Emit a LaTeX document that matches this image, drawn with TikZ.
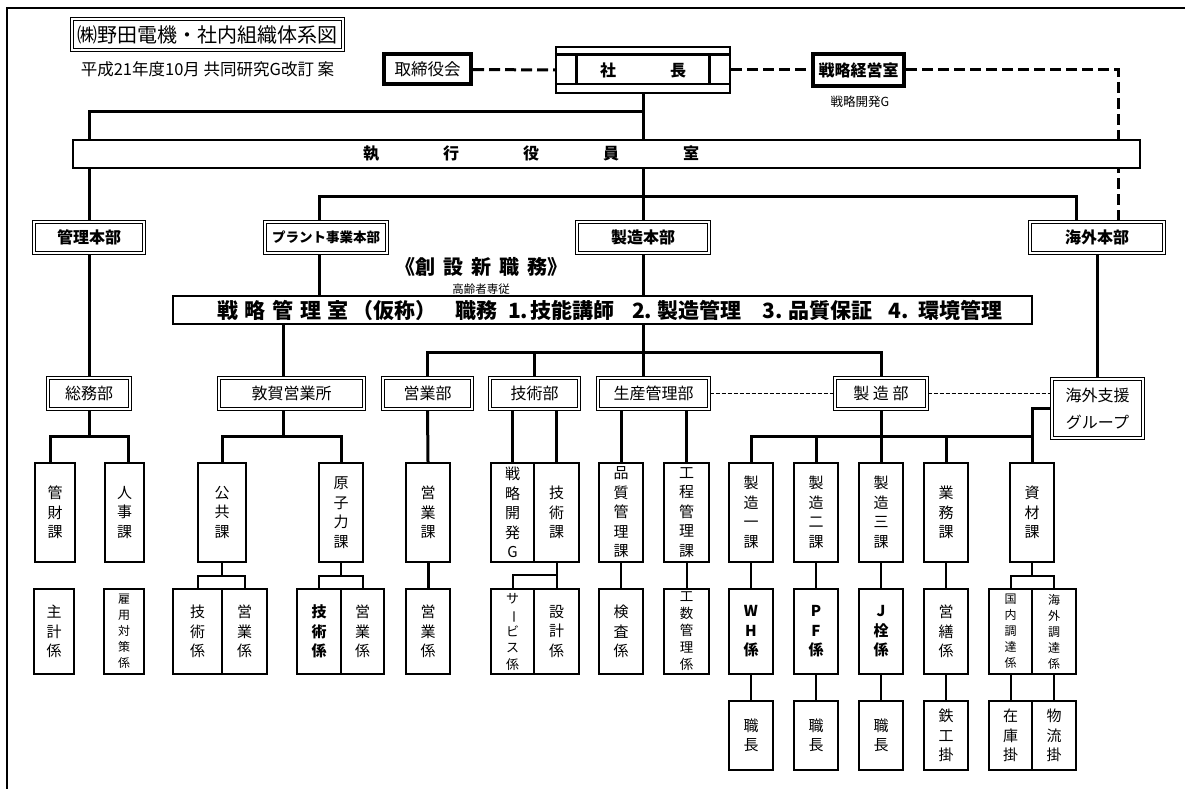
\documentclass[tikz,border=0pt]{standalone}
\usepackage{fontspec}
\setmainfont{Noto Sans CJK JP}
\usetikzlibrary{backgrounds}
\begin{document}
\begin{tikzpicture}[x=1pt,y=-1pt,
  kbox/.style={draw,line width=2.2pt,fill=white,inner sep=0pt,align=center,font=\fontsize{15}{19.5}\selectfont},
  ka/.style={kbox,minimum width=44pt,minimum height=99pt},
  kk/.style={kbox,minimum width=44pt,minimum height=85pt},
  k3/.style={kbox,minimum width=44pt,minimum height=69pt},
  smallv/.style={font=\fontsize{12}{16}\selectfont},
  dbox/.style={draw,double,double distance=1.6pt,line width=1.2pt,fill=white,inner sep=0pt,align=center,font=\fontsize{16}{20}\selectfont,minimum height=31pt},
  hbox/.style={dbox,font=\bfseries\fontsize{16}{20}\selectfont},
  conn/.style={line width=3pt},
  thinconn/.style={line width=2pt},
  dashline/.style={line width=3pt,dash pattern=on 11pt off 5pt},
  dotline/.style={line width=1pt,dash pattern=on 4pt off 2pt},
  barbox/.style={draw,line width=2.5pt,fill=white,inner sep=0pt,minimum height=28pt}
]
\useasboundingbox (0,0) rectangle (1185,789);

% header
\node[dbox,font=\fontsize{20}{24}\selectfont,minimum width=271pt] (title) at (207.5,34.5) {㈱野田電機・社内組織体系図};
\node[font=\fontsize{16.5}{19}\selectfont,inner sep=0pt] (sub) at (207.5,69) {平成21年度10月 共同研究G改訂 案};
\node[draw,line width=4pt,fill=white,minimum width=87pt,minimum height=30pt,inner sep=0pt,font=\fontsize{16.5}{20}\selectfont] (tori) at (427.5,69.5) {取締役会};
\node[draw,line width=2.5pt,fill=white,minimum width=174pt,minimum height=46pt,inner sep=0pt,font=\bfseries\fontsize{16}{20}\selectfont] (shacho) at (643,70) {社\hspace{54pt}長};
\draw[line width=2.5pt] ([yshift=-9pt]shacho.north west) -- ([yshift=-9pt]shacho.north east);
\draw[line width=2.5pt] ([yshift=10pt]shacho.south west) -- ([yshift=10pt]shacho.south east);
\draw[line width=3pt] ([xshift=22pt,yshift=-9pt]shacho.north west) -- ([xshift=22pt,yshift=10pt]shacho.south west);
\draw[line width=3pt] ([xshift=-22pt,yshift=-9pt]shacho.north east) -- ([xshift=-22pt,yshift=10pt]shacho.south east);
\node[draw,line width=4pt,fill=white,minimum width=91pt,minimum height=32pt,inner sep=0pt,font=\bfseries\fontsize{16}{20}\selectfont] (keiei) at (858.5,70) {戦略経営室};
\node[font=\fontsize{12.5}{15}\selectfont,inner sep=0pt] (kaihatsu) at (860,102) {戦略開発G};

% executive bar
\node[barbox,minimum width=1067pt,font=\bfseries\fontsize{16}{20}\selectfont] (shikko) at (606.5,154) {執\hspace{64pt}行\hspace{64pt}役\hspace{64pt}員\hspace{64pt}室\hspace*{151pt}};

% honbu
\node[hbox,minimum width=110pt] (kanri) at (89,237.5) {管理本部};
\node[hbox,minimum width=122pt,font=\bfseries\fontsize{13.5}{16}\selectfont] (plant) at (326,237.5) {プラント事業本部};
\node[hbox,minimum width=132pt] (seizohonbu) at (643,237.5) {製造本部};
\node[hbox,minimum width=134pt] (kaigai) at (1097,237.5) {海外本部};

\node[font=\bfseries\fontsize{20}{24}\selectfont,inner sep=0pt] (shinshoku) at (481,267) {《創\hspace{8pt}設\hspace{8pt}新\hspace{8pt}職\hspace{8pt}務》};
\node[font=\fontsize{11.5}{14}\selectfont,inner sep=0pt] (koreisha) at (481,289) {高齢者専従};

\node[barbox,minimum width=859pt,font=\bfseries\fontsize{21}{24}\selectfont] (senkan) at (602.5,310) {\makebox[859pt][l]{\hspace*{44pt}戦\hspace{6.75pt}略\hspace{6.75pt}管\hspace{6.75pt}理\hspace{6.75pt}室\hspace{4pt}（仮称）\hspace{19pt}職務\hspace{10pt}1.\hspace{2pt}技能講師\hspace{18pt}2.\hspace{5pt}製造管理\hspace{21pt}3.\hspace{6pt}品質保証\hspace{16pt}4.\hspace{10pt}環境管理}};

% bu row
\node[dbox,minimum width=82pt] (somu) at (89,393.5) {総務部};
\node[dbox,minimum width=145pt] (tsuruga) at (291.5,393.5) {敦賀営業所};
\node[dbox,minimum width=89pt] (eigyobu) at (427.5,393.5) {営業部};
\node[dbox,minimum width=89pt] (gijutsubu) at (534.5,393.5) {技術部};
\node[dbox,minimum width=111pt] (seisankanri) at (653.5,393.5) {生産管理部};
\node[dbox,minimum width=92pt] (seizobu) at (881,393.5) {製 造 部};
\node[dbox,minimum width=91pt,minimum height=59pt,font=\fontsize{16}{27}\selectfont] (shien) at (1097.5,408.5) {海外支援\\グループ};

% ka row
\node[ka,minimum width=40pt] (kanzai) at (55,512.5) {管\\財\\課};
\node[ka,minimum width=39pt] (jinji) at (124.5,512.5) {人\\事\\課};
\node[ka,minimum width=48pt] (kokyo) at (222,512.5) {公\\共\\課};
\node[ka] (genshi) at (341,512.5) {原\\子\\力\\課};
\node[ka] (eigyoka) at (428,512.5) {営\\業\\課};
\node[ka,minimum width=43pt] (senG) at (512.5,512.5) {戦\\略\\開\\発\\G};
\node[ka,minimum width=45pt] (gijutsuka) at (556.5,512.5) {技\\術\\課};
\node[ka] (hinshitsu) at (621,512.5) {品\\質\\管\\理\\課};
\node[ka,minimum width=45pt] (kotei) at (686.5,512.5) {工\\程\\管\\理\\課};
\node[ka] (seizo1) at (751,512.5) {製\\造\\一\\課};
\node[ka] (seizo2) at (816,512.5) {製\\造\\二\\課};
\node[ka] (seizo3) at (881,512.5) {製\\造\\三\\課};
\node[ka] (gyomu) at (946,512.5) {業\\務\\課};
\node[ka] (shizai) at (1032,512.5) {資\\材\\課};

% kakari row
\node[kk,minimum width=40pt] (shukei) at (54,631.5) {主\\計\\係};
\node[kk,minimum width=40pt,smallv] (koyo) at (124,631.5) {雇\\用\\対\\策\\係};
\node[kk,minimum width=49pt] (gk1) at (197.5,631.5) {技\\術\\係};
\node[kk,minimum width=45pt] (ek1) at (244.5,631.5) {営\\業\\係};
\node[kk,font=\bfseries\fontsize{15}{19.5}\selectfont] (gk2) at (319,631.5) {技\\術\\係};
\node[kk,minimum width=43pt] (ek2) at (362.5,631.5) {営\\業\\係};
\node[kk] (ek3) at (428,631.5) {営\\業\\係};
\node[kk,minimum width=43pt,font=\fontsize{13}{16.5}\selectfont] (service) at (512.5,631.5) {サ\\\rotatebox[origin=c]{-90}{ー}\\ビ\\ス\\係};
\node[kk,minimum width=45pt] (sekkei) at (556.5,631.5) {設\\計\\係};
\node[kk] (kensa) at (621,631.5) {検\\査\\係};
\node[kk,minimum width=45pt,font=\fontsize{13.5}{17}\selectfont] (kosu) at (686.5,631.5) {工\\数\\管\\理\\係};
\node[kk,font=\bfseries\fontsize{15}{19.5}\selectfont] (wh) at (751,631.5) {W\\H\\係};
\node[kk,font=\bfseries\fontsize{15}{19.5}\selectfont] (pf) at (816,631.5) {P\\F\\係};
\node[kk,font=\bfseries\fontsize{15}{19.5}\selectfont] (jsen) at (881,631.5) {J\\栓\\係};
\node[kk] (eizen) at (946,631.5) {営\\繕\\係};
\node[kk,minimum width=43pt,smallv] (kokunai) at (1010.5,631.5) {国\\内\\調\\達\\係};
\node[kk,smallv] (kaigaicho) at (1054,631.5) {海\\外\\調\\達\\係};

% third row
\node[k3] (sc1) at (751,735.5) {職\\長};
\node[k3] (sc2) at (816,735.5) {職\\長};
\node[k3] (sc3) at (881,735.5) {職\\長};
\node[k3] (tekko) at (946,735.5) {鉄\\工\\掛};
\node[k3,minimum width=43pt] (zaiko) at (1010.5,735.5) {在\\庫\\掛};
\node[k3] (butsuryu) at (1054,735.5) {物\\流\\掛};

\coordinate (t1) at (643,112);
\coordinate (t2) at (1076,196);
\coordinate (h3) at (643,352);
\coordinate (h4) at (881,436);
\coordinate (h5) at (89,436);
\coordinate (h6) at (283,436);
\coordinate (f1) at (222,576);
\coordinate (f2) at (341,576);
\coordinate (f3) at (556.5,575);
\coordinate (f4) at (1032,576);

\begin{scope}[on background layer]
\fill[white] (0,0) rectangle (1185,789);
\draw[line width=2.5pt] (7,789) -- (7,8) -- (1185,8);
% top structure
\draw[conn] (shacho.south) -- (seizohonbu.north);
\draw[conn] (kanri.north) |- (t1);
\draw[conn] ([xshift=-7pt]plant.north) |- (t2) -- (t2 |- kaigai.north);
\draw[dashline] (tori.east) -- (shacho.west);
\draw[dashline] (shacho.east) -- (keiei.west);
\draw[dashline] (keiei.east) -| ([xshift=21pt]kaigai.north);
\draw[conn] ([xshift=-7pt]plant.south) -- ([xshift=-7pt]plant.south |- senkan.north);
\draw[conn] (seizohonbu.south) -- (seizohonbu.south |- seisankanri.north);
\draw[conn] (kanri.south) -- (somu.north);
\draw[conn] (kaigai.south) -- (kaigai.south |- shien.north);
\draw[conn] ([xshift=-8.5pt]tsuruga.north) -- ([xshift=-8.5pt]tsuruga.north |- senkan.south);
\draw[conn] (eigyobu.north) |- (seizobu.north |- h3) -- (seizobu.north);
\draw[conn] (gijutsubu.north) -- (gijutsubu.north |- h3);
\draw[dotline] (seisankanri.east) -- (seizobu.west);
\draw[dotline] (seizobu.east) -- (seizobu.east -| shien.west);
% bu to ka
\draw[conn] (somu.south) -- (h5);
\draw[conn] ([xshift=-5pt]kanzai.north) |- ([xshift=3.5pt]jinji.north |- h5) -- ([xshift=3.5pt]jinji.north);
\draw[conn] ([xshift=-8.5pt]tsuruga.south) -- (h6);
\draw[conn] (kokyo.north) |- (genshi.north |- h6) -- (genshi.north);
\draw[conn] (eigyobu.south) -- (eigyoka.north);
\draw[conn] (senG.north) -- (senG.north |- gijutsubu.south);
\draw[conn] (gijutsuka.north) -- (gijutsuka.north |- gijutsubu.south);
\draw[conn] (hinshitsu.north) -- (hinshitsu.north |- seisankanri.south);
\draw[conn] (kotei.north) -- (kotei.north |- seisankanri.south);
\draw[conn] (seizobu.south) -- (seizo3.north);
\draw[conn] (seizo1.north) |- (shizai.north |- h4);
\draw[conn] (seizo2.north) -- (seizo2.north |- h4);
\draw[conn] (gyomu.north) -- (gyomu.north |- h4);
\draw[conn] (shien.west) -| (shizai.north);
% ka to kakari
\draw[thinconn] (kokyo.south) -- (f1);
\draw[thinconn] (gk1.north) |- (ek1.north |- f1) -- (ek1.north);
\draw[thinconn] (genshi.south) -- (f2);
\draw[thinconn] (gk2.north) |- (ek2.north |- f2) -- (ek2.north);
\draw[conn] (eigyoka.south) -- (ek3.north);
\draw[thinconn] (gijutsuka.south) -- (sekkei.north);
\draw[thinconn] (service.north) |- (f3);
\draw[thinconn] (hinshitsu.south) -- (kensa.north);
\draw[thinconn] (kotei.south) -- (kosu.north);
\draw[thinconn] (seizo1.south) -- (wh.north);
\draw[thinconn] (seizo2.south) -- (pf.north);
\draw[thinconn] (seizo3.south) -- (jsen.north);
\draw[thinconn] (gyomu.south) -- (eizen.north);
\draw[thinconn] (shizai.south) -- (f4);
\draw[thinconn] (kokunai.north) |- (kaigaicho.north |- f4) -- (kaigaicho.north);
% kakari to third
\draw[thinconn] (wh.south) -- (sc1.north);
\draw[thinconn] (pf.south) -- (sc2.north);
\draw[thinconn] (jsen.south) -- (sc3.north);
\draw[thinconn] (eizen.south) -- (tekko.north);
\draw[thinconn] (kokunai.south) -- (zaiko.north);
\draw[thinconn] (kaigaicho.south) -- (butsuryu.north);
\end{scope}
\end{tikzpicture}
\end{document}
